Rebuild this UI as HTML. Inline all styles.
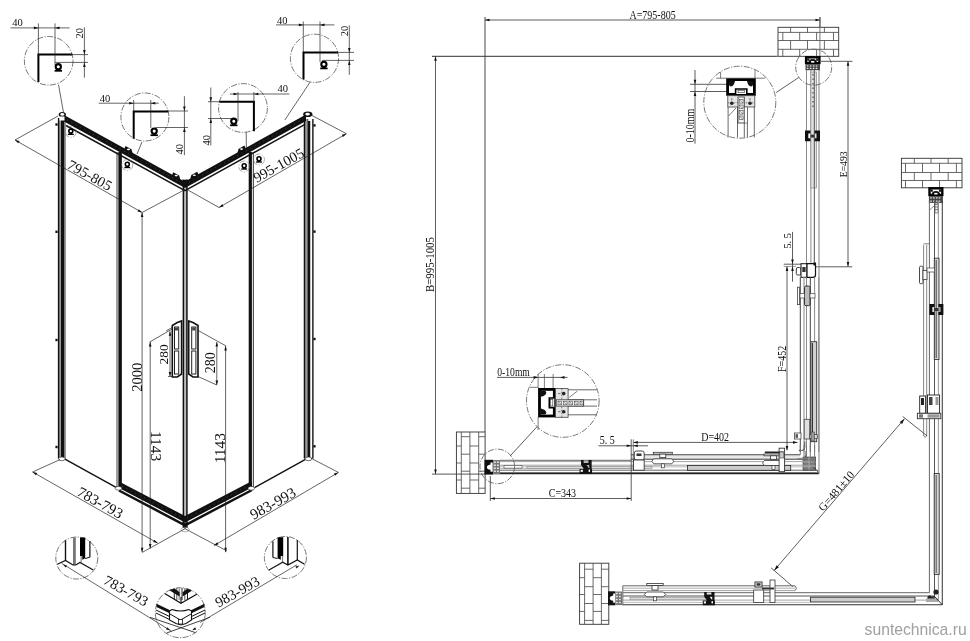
<!DOCTYPE html>
<html><head><meta charset="utf-8">
<style>
html,body{margin:0;padding:0;background:#fff;}
svg{display:block;filter:grayscale(100%);}
</style></head><body>
<svg width="970" height="641" viewBox="0 0 970 641">
<rect width="970" height="641" fill="#fff"/>
<circle cx="48.7" cy="60.8" r="24.3" fill="none" stroke="#555" stroke-width="0.8" stroke-dasharray="6,1.5,1.2,1.5"/>
<circle cx="144.9" cy="117.0" r="24.0" fill="none" stroke="#555" stroke-width="0.8" stroke-dasharray="6,1.5,1.2,1.5"/>
<circle cx="243.0" cy="108.0" r="24.4" fill="none" stroke="#555" stroke-width="0.8" stroke-dasharray="6,1.5,1.2,1.5"/>
<circle cx="314.5" cy="58.3" r="24.1" fill="none" stroke="#555" stroke-width="0.8" stroke-dasharray="6,1.5,1.2,1.5"/>
<polyline points="38.4,82.0 38.4,54.6 72.2,54.6" stroke="#000" stroke-width="2.0" fill="none" />
<line x1="10.5" y1="27.9" x2="69.6" y2="27.9" stroke="#222" stroke-width="0.7" />
<line x1="38.4" y1="23.4" x2="38.4" y2="54.6" stroke="#222" stroke-width="0.7" />
<line x1="55.0" y1="23.4" x2="55.0" y2="65.0" stroke="#222" stroke-width="0.7" />
<polygon points="38.4,27.9 33.9,29.2 33.9,26.6" fill="#111" stroke="none" stroke-width="0.8" />
<polygon points="55.0,27.9 59.5,26.6 59.5,29.2" fill="#111" stroke="none" stroke-width="0.8" />
<text transform="translate(12.2,26.2) rotate(0)" font-family="Liberation Serif" font-size="10.5" fill="#111" text-anchor="start" >40</text>
<line x1="84.4" y1="27.3" x2="84.4" y2="77.7" stroke="#222" stroke-width="0.7" />
<line x1="70.0" y1="54.6" x2="88.0" y2="54.6" stroke="#222" stroke-width="0.7" />
<line x1="55.0" y1="62.4" x2="88.0" y2="62.4" stroke="#222" stroke-width="0.7" />
<polygon points="84.4,54.6 83.1,50.1 85.7,50.1" fill="#111" stroke="none" stroke-width="0.8" />
<polygon points="84.4,62.4 85.7,66.9 83.1,66.9" fill="#111" stroke="none" stroke-width="0.8" />
<text transform="translate(83.2,38.5) rotate(-90)" font-family="Liberation Serif" font-size="10.5" fill="#111" text-anchor="start" >20</text>
<circle cx="58.3" cy="66.7" r="2.6" fill="none" stroke="#000" stroke-width="2.1"/>
<line x1="54.6" y1="70.8" x2="62.0" y2="70.8" stroke="#000" stroke-width="1.7600000000000002" />
<line x1="57.4" y1="68.9" x2="57.4" y2="70.8" stroke="#000" stroke-width="1.32" />
<line x1="59.2" y1="68.9" x2="59.2" y2="70.8" stroke="#000" stroke-width="1.32" />
<line x1="58.5" y1="84.6" x2="63.5" y2="112.5" stroke="#222" stroke-width="0.7" />
<polyline points="303.5,79.5 303.5,52.4 338.0,52.4" stroke="#000" stroke-width="2.0" fill="none" />
<line x1="276.0" y1="24.9" x2="334.4" y2="24.9" stroke="#222" stroke-width="0.7" />
<line x1="303.3" y1="21.5" x2="303.3" y2="52.4" stroke="#222" stroke-width="0.7" />
<line x1="320.0" y1="21.5" x2="320.0" y2="62.0" stroke="#222" stroke-width="0.7" />
<polygon points="303.3,24.9 298.8,26.2 298.8,23.6" fill="#111" stroke="none" stroke-width="0.8" />
<polygon points="320.0,24.9 324.5,23.6 324.5,26.2" fill="#111" stroke="none" stroke-width="0.8" />
<text transform="translate(277.0,24.0) rotate(0)" font-family="Liberation Serif" font-size="10.5" fill="#111" text-anchor="start" >40</text>
<line x1="349.3" y1="25.3" x2="349.3" y2="74.8" stroke="#222" stroke-width="0.7" />
<line x1="336.0" y1="52.4" x2="354.0" y2="52.4" stroke="#222" stroke-width="0.7" />
<line x1="322.0" y1="60.4" x2="354.0" y2="60.4" stroke="#222" stroke-width="0.7" />
<polygon points="349.3,52.4 348.0,47.9 350.6,47.9" fill="#111" stroke="none" stroke-width="0.8" />
<polygon points="349.3,60.4 350.6,64.9 348.0,64.9" fill="#111" stroke="none" stroke-width="0.8" />
<text transform="translate(348.0,36.3) rotate(-90)" font-family="Liberation Serif" font-size="10.5" fill="#111" text-anchor="start" >20</text>
<circle cx="323.9" cy="64.3" r="2.6" fill="none" stroke="#000" stroke-width="2.1"/>
<line x1="320.2" y1="68.4" x2="327.6" y2="68.4" stroke="#000" stroke-width="1.7600000000000002" />
<line x1="323.0" y1="66.5" x2="323.0" y2="68.4" stroke="#000" stroke-width="1.32" />
<line x1="324.8" y1="66.5" x2="324.8" y2="68.4" stroke="#000" stroke-width="1.32" />
<line x1="310.0" y1="82.3" x2="284.8" y2="120.0" stroke="#222" stroke-width="0.7" />
<polyline points="133.7,138.8 133.7,111.5 168.2,111.5" stroke="#000" stroke-width="2.0" fill="none" />
<line x1="98.7" y1="103.2" x2="158.8" y2="103.2" stroke="#222" stroke-width="0.7" />
<line x1="133.7" y1="100.0" x2="133.7" y2="111.5" stroke="#222" stroke-width="0.7" />
<line x1="150.8" y1="100.0" x2="150.8" y2="128.0" stroke="#222" stroke-width="0.7" />
<polygon points="133.7,103.2 129.2,104.5 129.2,101.9" fill="#111" stroke="none" stroke-width="0.8" />
<polygon points="150.8,103.2 155.3,101.9 155.3,104.5" fill="#111" stroke="none" stroke-width="0.8" />
<text transform="translate(99.8,102.0) rotate(0)" font-family="Liberation Serif" font-size="10.5" fill="#111" text-anchor="start" >40</text>
<line x1="184.4" y1="96.2" x2="184.4" y2="155.2" stroke="#222" stroke-width="0.7" />
<line x1="166.0" y1="111.0" x2="188.0" y2="111.0" stroke="#222" stroke-width="0.7" />
<line x1="155.6" y1="127.5" x2="188.0" y2="127.5" stroke="#222" stroke-width="0.7" />
<polygon points="184.4,111.0 183.1,106.5 185.7,106.5" fill="#111" stroke="none" stroke-width="0.8" />
<polygon points="184.4,127.5 185.7,132.0 183.1,132.0" fill="#111" stroke="none" stroke-width="0.8" />
<text transform="translate(182.9,154.5) rotate(-90)" font-family="Liberation Serif" font-size="10.5" fill="#111" text-anchor="start" >40</text>
<circle cx="154.2" cy="131.1" r="2.6" fill="none" stroke="#000" stroke-width="2.1"/>
<line x1="150.5" y1="135.2" x2="157.9" y2="135.2" stroke="#000" stroke-width="1.7600000000000002" />
<line x1="153.3" y1="133.3" x2="153.3" y2="135.2" stroke="#000" stroke-width="1.32" />
<line x1="155.1" y1="133.3" x2="155.1" y2="135.2" stroke="#000" stroke-width="1.32" />
<line x1="142.0" y1="142.0" x2="137.0" y2="154.0" stroke="#222" stroke-width="0.7" />
<polyline points="219.4,101.7 253.9,101.7 253.9,131.2" stroke="#000" stroke-width="2.0" fill="none" />
<line x1="229.9" y1="94.0" x2="289.3" y2="94.0" stroke="#222" stroke-width="0.7" />
<line x1="238.0" y1="92.0" x2="238.0" y2="121.0" stroke="#222" stroke-width="0.7" />
<line x1="253.9" y1="92.0" x2="253.9" y2="101.7" stroke="#222" stroke-width="0.7" />
<polygon points="238.0,94.0 233.5,95.3 233.5,92.7" fill="#111" stroke="none" stroke-width="0.8" />
<polygon points="253.9,94.0 258.4,92.7 258.4,95.3" fill="#111" stroke="none" stroke-width="0.8" />
<text transform="translate(277.5,91.8) rotate(0)" font-family="Liberation Serif" font-size="10.5" fill="#111" text-anchor="start" >40</text>
<line x1="210.8" y1="87.5" x2="210.8" y2="145.4" stroke="#222" stroke-width="0.7" />
<line x1="208.0" y1="101.7" x2="221.0" y2="101.7" stroke="#222" stroke-width="0.7" />
<line x1="208.0" y1="118.5" x2="232.0" y2="118.5" stroke="#222" stroke-width="0.7" />
<polygon points="210.8,101.7 209.5,97.2 212.1,97.2" fill="#111" stroke="none" stroke-width="0.8" />
<polygon points="210.8,118.5 212.1,123.0 209.5,123.0" fill="#111" stroke="none" stroke-width="0.8" />
<text transform="translate(209.8,145.6) rotate(-90)" font-family="Liberation Serif" font-size="10.5" fill="#111" text-anchor="start" >40</text>
<circle cx="233.8" cy="121.2" r="2.6" fill="none" stroke="#000" stroke-width="2.1"/>
<line x1="230.1" y1="125.3" x2="237.5" y2="125.3" stroke="#000" stroke-width="1.7600000000000002" />
<line x1="232.9" y1="123.4" x2="232.9" y2="125.3" stroke="#000" stroke-width="1.32" />
<line x1="234.7" y1="123.4" x2="234.7" y2="125.3" stroke="#000" stroke-width="1.32" />
<line x1="246.2" y1="132.3" x2="246.4" y2="149.0" stroke="#222" stroke-width="0.7" />
<rect x="57.90" y="118.0" width="7.60" height="340.5" fill="#9a9a9a"/>
<rect x="57.90" y="118.0" width="1.40" height="340.5" fill="#111"/>
<rect x="61.00" y="118.0" width="3.10" height="340.5" fill="#111"/>
<rect x="64.60" y="118.0" width="0.90" height="340.5" fill="#666"/>
<rect x="303.80" y="119.0" width="9.70" height="339.5" fill="#9a9a9a"/>
<rect x="303.80" y="119.0" width="1.40" height="339.5" fill="#111"/>
<rect x="307.60" y="119.0" width="2.80" height="339.5" fill="#111"/>
<rect x="310.40" y="119.0" width="1.80" height="339.5" fill="#fff"/>
<rect x="312.20" y="119.0" width="1.30" height="339.5" fill="#222"/>
<rect x="116.00" y="152.0" width="5.80" height="336.0" fill="#a0a0a0"/>
<rect x="118.60" y="152.0" width="3.20" height="336.0" fill="#111"/>
<rect x="248.70" y="152.0" width="5.20" height="336.0" fill="#fff"/>
<rect x="248.70" y="152.0" width="3.20" height="336.0" fill="#111"/>
<rect x="252.80" y="152.0" width="1.10" height="336.0" fill="#444"/>
<rect x="182.70" y="186.0" width="4.90" height="342.0" fill="#bbb"/>
<rect x="182.70" y="186.0" width="1.40" height="342.0" fill="#111"/>
<rect x="186.20" y="186.0" width="1.40" height="342.0" fill="#111"/>
<polygon points="64.0,115.1 185.0,181.7 185.0,188.1 64.0,121.5" fill="#111" stroke="none" stroke-width="0.8" />
<polygon points="185.0,181.5 306.0,114.6 306.0,121.0 185.0,187.9" fill="#111" stroke="none" stroke-width="0.8" />
<polyline points="66.0,125.5 185.0,190.7 305.0,124.4" stroke="#151515" stroke-width="1.5" fill="none" />
<polygon points="182.4,179.4 185.0,179.7 187.6,179.3 187.6,185.1 182.4,185.2" fill="#111" stroke="none" stroke-width="0.8" />
<polygon points="124.3,149.1 125.5,145.9 131.5,149.2 132.7,153.7" fill="#111" stroke="none" stroke-width="0.8" />
<ellipse cx="128.5" cy="149.4" rx="1.6" ry="0.8" fill="#fff"/>
<polygon points="172.0,175.3 173.2,172.2 179.2,175.5 180.4,179.9" fill="#111" stroke="none" stroke-width="0.8" />
<ellipse cx="176.2" cy="175.6" rx="1.6" ry="0.8" fill="#fff"/>
<polygon points="190.1,179.5 191.3,175.0 197.3,171.7 198.5,174.8" fill="#111" stroke="none" stroke-width="0.8" />
<ellipse cx="194.3" cy="175.2" rx="1.6" ry="0.8" fill="#fff"/>
<polygon points="237.3,153.4 238.5,148.9 244.5,145.6 245.7,148.7" fill="#111" stroke="none" stroke-width="0.8" />
<ellipse cx="241.5" cy="149.1" rx="1.6" ry="0.8" fill="#fff"/>
<polyline points="67.0,119.8 181.0,182.4" stroke="#4a4a4a" stroke-width="0.9" fill="none" stroke-dasharray="1,4"/>
<polyline points="189.0,182.3 303.0,119.2" stroke="#4a4a4a" stroke-width="0.9" fill="none" stroke-dasharray="1,4"/>
<ellipse cx="62.3" cy="114.6" rx="3.6" ry="2.6" fill="#111"/>
<ellipse cx="62.3" cy="114.4" rx="2.0" ry="1.3" fill="#fff"/>
<rect x="59.5" y="116.5" width="5.0" height="4.0" fill="#fff" stroke="none" stroke-width="0.8" />
<ellipse cx="307.8" cy="114.3" rx="4.6" ry="2.8" fill="#111"/>
<ellipse cx="307.6" cy="114.2" rx="2.3" ry="1.4" fill="#fff"/>
<rect x="308.2" y="117.0" width="3.8" height="4.0" fill="#fff" stroke="none" stroke-width="0.8" />
<rect x="55.4" y="123.3" width="2.2" height="2.4" fill="#111" stroke="none" stroke-width="0.8" />
<rect x="55.4" y="230.6" width="2.2" height="2.4" fill="#111" stroke="none" stroke-width="0.8" />
<rect x="55.4" y="338.8" width="2.2" height="2.4" fill="#111" stroke="none" stroke-width="0.8" />
<rect x="55.4" y="445.8" width="2.2" height="2.4" fill="#111" stroke="none" stroke-width="0.8" />
<rect x="313.4" y="124.2" width="2.2" height="2.4" fill="#111" stroke="none" stroke-width="0.8" />
<rect x="313.4" y="230.4" width="2.2" height="2.4" fill="#111" stroke="none" stroke-width="0.8" />
<rect x="313.4" y="337.8" width="2.2" height="2.4" fill="#111" stroke="none" stroke-width="0.8" />
<rect x="313.4" y="445.1" width="2.2" height="2.4" fill="#111" stroke="none" stroke-width="0.8" />
<line x1="64.5" y1="458.8" x2="116.5" y2="487.6" stroke="#111" stroke-width="1.4" />
<line x1="254.5" y1="487.6" x2="305.5" y2="459.3" stroke="#111" stroke-width="1.4" />
<polygon points="119.0,481.5 185.0,516.0 185.0,522.4 119.0,487.9" fill="#111" stroke="none" stroke-width="0.8" />
<polygon points="185.0,516.0 252.0,481.0 252.0,487.4 185.0,522.4" fill="#111" stroke="none" stroke-width="0.8" />
<polyline points="119.0,490.5 185.0,525.3 252.0,490.0" stroke="#111" stroke-width="2.5" fill="none" />
<polyline points="122.0,486.2 183.0,518.1" stroke="#4a4a4a" stroke-width="0.9" fill="none" stroke-dasharray="1,4"/>
<polyline points="187.0,518.2 249.0,485.7" stroke="#4a4a4a" stroke-width="0.9" fill="none" stroke-dasharray="1,4"/>
<polygon points="182.0,522.4 185.0,529.2 188.0,522.4" fill="#111" stroke="none" stroke-width="0.8" />
<ellipse cx="61.8" cy="458.8" rx="3.3" ry="1.9" fill="#fff" stroke="#333" stroke-width="0.7"/>
<ellipse cx="118.5" cy="488.3" rx="3.3" ry="1.9" fill="#fff" stroke="#333" stroke-width="0.7"/>
<ellipse cx="251.3" cy="488.3" rx="3.3" ry="1.9" fill="#fff" stroke="#333" stroke-width="0.7"/>
<ellipse cx="308.5" cy="458.8" rx="3.3" ry="1.9" fill="#fff" stroke="#333" stroke-width="0.7"/>
<ellipse cx="185" cy="529.5" rx="4" ry="2.3" fill="none" stroke="#888" stroke-width="0.6"/>
<circle cx="70.8" cy="131.8" r="5.5" fill="none" stroke="#777" stroke-width="0.6" stroke-dasharray="6,1.5,1.2,1.5"/>
<circle cx="70.8" cy="131.1" r="2.0" fill="none" stroke="#000" stroke-width="1.6"/>
<line x1="67.9" y1="134.3" x2="73.7" y2="134.3" stroke="#000" stroke-width="1.36" />
<line x1="70.1" y1="132.8" x2="70.1" y2="134.3" stroke="#000" stroke-width="1.02" />
<line x1="71.5" y1="132.8" x2="71.5" y2="134.3" stroke="#000" stroke-width="1.02" />
<circle cx="127.3" cy="165.0" r="5.5" fill="none" stroke="#777" stroke-width="0.6" stroke-dasharray="6,1.5,1.2,1.5"/>
<circle cx="127.3" cy="164.3" r="2.0" fill="none" stroke="#000" stroke-width="1.6"/>
<line x1="124.4" y1="167.5" x2="130.2" y2="167.5" stroke="#000" stroke-width="1.36" />
<line x1="126.6" y1="166.0" x2="126.6" y2="167.5" stroke="#000" stroke-width="1.02" />
<line x1="128.0" y1="166.0" x2="128.0" y2="167.5" stroke="#000" stroke-width="1.02" />
<circle cx="244.2" cy="166.5" r="5.5" fill="none" stroke="#777" stroke-width="0.6" stroke-dasharray="6,1.5,1.2,1.5"/>
<circle cx="244.2" cy="165.8" r="2.0" fill="none" stroke="#000" stroke-width="1.6"/>
<line x1="241.3" y1="169.0" x2="247.1" y2="169.0" stroke="#000" stroke-width="1.36" />
<line x1="243.5" y1="167.5" x2="243.5" y2="169.0" stroke="#000" stroke-width="1.02" />
<line x1="244.9" y1="167.5" x2="244.9" y2="169.0" stroke="#000" stroke-width="1.02" />
<circle cx="259.0" cy="159.5" r="5.5" fill="none" stroke="#777" stroke-width="0.6" stroke-dasharray="6,1.5,1.2,1.5"/>
<circle cx="259.0" cy="158.8" r="2.0" fill="none" stroke="#000" stroke-width="1.6"/>
<line x1="256.1" y1="162.0" x2="261.9" y2="162.0" stroke="#000" stroke-width="1.36" />
<line x1="258.3" y1="160.5" x2="258.3" y2="162.0" stroke="#000" stroke-width="1.02" />
<line x1="259.7" y1="160.5" x2="259.7" y2="162.0" stroke="#000" stroke-width="1.02" />
<polygon points="172.3,325.5 177.3,322.5 181.6,321.0 181.6,374.0 177.3,377.0 172.3,377.0" fill="#fff" stroke="#111" stroke-width="1.6" />
<rect x="174.5" y="327.0" width="4.2" height="22.0" fill="#fff" stroke="#222" stroke-width="1.0" />
<rect x="174.5" y="351.0" width="4.2" height="23.0" fill="#fff" stroke="#222" stroke-width="1.0" />
<rect x="175.0" y="327.5" width="3.2" height="3.0" fill="#444" stroke="none" stroke-width="0.8" />
<polygon points="188.7,321.0 193.0,322.5 198.0,325.5 198.0,377.0 193.0,377.0 188.7,374.0" fill="#fff" stroke="#111" stroke-width="1.6" />
<rect x="191.7" y="327.0" width="4.2" height="22.0" fill="#fff" stroke="#222" stroke-width="1.0" />
<rect x="191.7" y="351.0" width="4.2" height="23.0" fill="#fff" stroke="#222" stroke-width="1.0" />
<rect x="192.2" y="327.5" width="3.2" height="3.0" fill="#444" stroke="none" stroke-width="0.8" />
<line x1="58.0" y1="116.0" x2="15.0" y2="140.0" stroke="#222" stroke-width="0.7" />
<line x1="15.0" y1="140.0" x2="142.1" y2="212.5" stroke="#222" stroke-width="0.7" />
<line x1="185.0" y1="189.5" x2="142.1" y2="212.5" stroke="#222" stroke-width="0.7" />
<polygon points="15.0,140.0 19.6,141.1 18.3,143.3" fill="#111" stroke="none" stroke-width="0.8" />
<polygon points="142.1,212.5 137.5,211.4 138.8,209.2" fill="#111" stroke="none" stroke-width="0.8" />
<text transform="translate(87.4,179.5) rotate(29)" font-family="Liberation Serif" font-size="14.5" fill="#111" text-anchor="middle" >795-805</text>
<line x1="312.0" y1="115.5" x2="346.4" y2="133.7" stroke="#222" stroke-width="0.7" />
<line x1="346.4" y1="133.7" x2="219.0" y2="207.5" stroke="#222" stroke-width="0.7" />
<line x1="187.0" y1="189.5" x2="219.0" y2="207.5" stroke="#222" stroke-width="0.7" />
<polygon points="346.4,133.7 343.1,137.1 341.9,134.8" fill="#111" stroke="none" stroke-width="0.8" />
<polygon points="219.0,207.5 222.3,204.1 223.5,206.4" fill="#111" stroke="none" stroke-width="0.8" />
<text transform="translate(281.0,169.5) rotate(-29)" font-family="Liberation Serif" font-size="14.5" fill="#111" text-anchor="middle" >995-1005</text>
<line x1="142.1" y1="212.5" x2="142.1" y2="552.3" stroke="#222" stroke-width="0.7" />
<polygon points="142.1,212.5 143.4,217.0 140.8,217.0" fill="#111" stroke="none" stroke-width="0.8" />
<polygon points="142.1,552.3 140.8,547.8 143.4,547.8" fill="#111" stroke="none" stroke-width="0.8" />
<text transform="translate(141.6,377.3) rotate(-90)" font-family="Liberation Serif" font-size="14.5" fill="#111" text-anchor="middle" >2000</text>
<line x1="150.2" y1="342.0" x2="150.2" y2="548.5" stroke="#222" stroke-width="0.7" />
<polygon points="150.2,342.0 151.5,346.5 148.9,346.5" fill="#111" stroke="none" stroke-width="0.8" />
<polygon points="150.2,548.5 148.9,544.0 151.5,544.0" fill="#111" stroke="none" stroke-width="0.8" />
<text transform="translate(151.0,446.0) rotate(90) scale(1.1,1)" font-family="Liberation Serif" font-size="14" fill="#111" text-anchor="middle" >1143</text>
<line x1="225.6" y1="346.0" x2="225.6" y2="552.2" stroke="#222" stroke-width="0.7" />
<polygon points="225.6,346.0 226.9,350.5 224.3,350.5" fill="#111" stroke="none" stroke-width="0.8" />
<polygon points="225.6,552.2 224.3,547.7 226.9,547.7" fill="#111" stroke="none" stroke-width="0.8" />
<text transform="translate(224.6,448.2) rotate(-90) scale(1.1,1)" font-family="Liberation Serif" font-size="14" fill="#111" text-anchor="middle" >1143</text>
<line x1="172.3" y1="328.9" x2="149.6" y2="342.1" stroke="#222" stroke-width="0.7" />
<line x1="198.0" y1="330.4" x2="226.1" y2="346.0" stroke="#222" stroke-width="0.7" />
<line x1="170.0" y1="331.2" x2="170.0" y2="376.5" stroke="#222" stroke-width="0.7" />
<polygon points="170.0,331.2 171.3,335.7 168.7,335.7" fill="#111" stroke="none" stroke-width="0.8" />
<polygon points="170.0,376.5 168.7,372.0 171.3,372.0" fill="#111" stroke="none" stroke-width="0.8" />
<line x1="172.0" y1="327.5" x2="166.0" y2="331.0" stroke="#222" stroke-width="0.7" />
<line x1="173.0" y1="376.5" x2="168.0" y2="376.5" stroke="#222" stroke-width="0.7" />
<text transform="translate(168.4,354.3) rotate(-90)" font-family="Liberation Serif" font-size="13.5" fill="#111" text-anchor="middle" >280</text>
<line x1="216.8" y1="342.0" x2="216.8" y2="385.0" stroke="#222" stroke-width="0.7" />
<polygon points="216.8,342.0 218.1,346.5 215.5,346.5" fill="#111" stroke="none" stroke-width="0.8" />
<polygon points="216.8,385.0 215.5,380.5 218.1,380.5" fill="#111" stroke="none" stroke-width="0.8" />
<line x1="198.0" y1="376.5" x2="216.8" y2="385.0" stroke="#222" stroke-width="0.7" />
<text transform="translate(215.4,362.8) rotate(-90)" font-family="Liberation Serif" font-size="14" fill="#111" text-anchor="middle" >280</text>
<line x1="60.0" y1="459.6" x2="32.6" y2="472.0" stroke="#222" stroke-width="0.7" />
<line x1="32.6" y1="472.0" x2="157.7" y2="543.1" stroke="#222" stroke-width="0.7" />
<line x1="185.0" y1="528.7" x2="142.3" y2="552.4" stroke="#222" stroke-width="0.7" />
<polygon points="32.6,472.0 37.2,473.1 35.9,475.3" fill="#111" stroke="none" stroke-width="0.8" />
<polygon points="157.7,543.1 153.1,542.0 154.4,539.8" fill="#111" stroke="none" stroke-width="0.8" />
<text transform="translate(97.8,507.0) rotate(29)" font-family="Liberation Serif" font-size="15" fill="#111" text-anchor="middle" >783-793</text>
<line x1="311.0" y1="458.2" x2="338.4" y2="472.4" stroke="#222" stroke-width="0.7" />
<line x1="338.4" y1="472.4" x2="213.9" y2="545.6" stroke="#222" stroke-width="0.7" />
<line x1="185.0" y1="528.7" x2="227.0" y2="551.0" stroke="#222" stroke-width="0.7" />
<polygon points="338.4,472.4 335.1,475.8 333.9,473.5" fill="#111" stroke="none" stroke-width="0.8" />
<polygon points="213.9,545.6 217.2,542.2 218.4,544.5" fill="#111" stroke="none" stroke-width="0.8" />
<text transform="translate(275.3,507.8) rotate(-29)" font-family="Liberation Serif" font-size="15" fill="#111" text-anchor="middle" >983-993</text>
<circle cx="76.8" cy="558.0" r="21.0" fill="none" stroke="#555" stroke-width="0.8" stroke-dasharray="6,1.5,1.2,1.5"/>
<circle cx="180.3" cy="612.7" r="25.0" fill="none" stroke="#555" stroke-width="0.8" stroke-dasharray="6,1.5,1.2,1.5"/>
<circle cx="285.4" cy="557.5" r="21.0" fill="none" stroke="#555" stroke-width="0.8" stroke-dasharray="6,1.5,1.2,1.5"/>
<line x1="65.5" y1="540.3" x2="65.5" y2="560.5" stroke="#111" stroke-width="1.4" />
<rect x="73.00" y="537.5" width="2.80" height="27.5" fill="#777"/>
<polygon points="80.0,537.5 85.2,537.5 85.2,558.3 82.3,559.8 82.3,556.0 80.0,556.0" fill="#000" stroke="none" stroke-width="0.8" />
<line x1="81.2" y1="556.0" x2="81.2" y2="562.5" stroke="#888" stroke-width="1.2" />
<line x1="89.9" y1="541.0" x2="89.9" y2="557.2" stroke="#111" stroke-width="1.2" />
<line x1="89.9" y1="557.2" x2="85.2" y2="558.5" stroke="#111" stroke-width="1.0" />
<polyline points="57.3,564.3 65.5,560.5 73.0,565.0 75.8,565.0 80.0,562.5 93.3,569.9" stroke="#111" stroke-width="1.2" fill="none" />
<polygon points="62.9,564.6 67.0,565.5 65.8,567.6" fill="#111" stroke="none" stroke-width="0.8" />
<line x1="272.9" y1="541.2" x2="272.9" y2="557.5" stroke="#111" stroke-width="1.2" />
<polygon points="277.6,537.3 283.2,537.3 283.2,556.0 280.8,556.0 280.8,559.8 277.6,558.2" fill="#000" stroke="none" stroke-width="0.8" />
<line x1="282.5" y1="556.0" x2="282.5" y2="563.0" stroke="#888" stroke-width="1.2" />
<line x1="287.9" y1="537.0" x2="287.9" y2="565.0" stroke="#111" stroke-width="1.6" />
<line x1="297.3" y1="540.0" x2="297.3" y2="560.0" stroke="#111" stroke-width="1.2" />
<line x1="272.9" y1="557.5" x2="277.6" y2="558.5" stroke="#111" stroke-width="1.0" />
<polyline points="269.0,569.9 282.7,562.2 287.9,565.0 297.3,560.0 304.6,564.3" stroke="#111" stroke-width="1.2" fill="none" />
<polygon points="299.5,565.5 296.6,568.5 295.4,566.4" fill="#111" stroke="none" stroke-width="0.8" />
<defs><clipPath id="cc"><circle cx="180.3" cy="612.3" r="24.6"/></clipPath></defs>
<g clip-path="url(#cc)">
<line x1="174.3" y1="586.0" x2="174.3" y2="600.0" stroke="#222" stroke-width="1.0" />
<line x1="176.8" y1="586.0" x2="176.8" y2="600.0" stroke="#555" stroke-width="1.0" />
<line x1="179.3" y1="586.0" x2="179.3" y2="600.0" stroke="#aaa" stroke-width="1.8" />
<line x1="182.0" y1="586.0" x2="182.0" y2="600.0" stroke="#222" stroke-width="1.0" />
<line x1="184.8" y1="586.0" x2="184.8" y2="600.0" stroke="#555" stroke-width="1.0" />
<line x1="187.5" y1="586.0" x2="187.5" y2="600.0" stroke="#222" stroke-width="1.0" />
<polygon points="166.5,588.6 170.5,585.5 179.6,592.2 179.6,596.6" fill="#111" stroke="none" stroke-width="0.8" />
<polygon points="195.5,588.6 191.5,585.5 182.6,592.2 182.6,596.6" fill="#111" stroke="none" stroke-width="0.8" />
<polygon points="164.3,593.3 181.0,603.3 197.6,593.8 197.6,595.6 181.0,605.0 164.3,595.1" fill="#fff" stroke="none" stroke-width="0.8" />
<polyline points="164.3,593.3 181.0,603.3 197.6,593.8" stroke="#111" stroke-width="1.3" fill="none" />
<line x1="181.0" y1="597.0" x2="181.0" y2="603.3" stroke="#111" stroke-width="1.2" />
</g>
<polygon points="156.5,603.8 170.1,610.3 170.1,613.5 156.5,607.0" fill="#111" stroke="none" stroke-width="0.8" />
<polygon points="191.0,610.3 204.5,603.8 204.5,607.0 191.0,613.5" fill="#111" stroke="none" stroke-width="0.8" />
<polyline points="156.0,610.0 169.5,616.5" stroke="#111" stroke-width="1.0" fill="none" />
<polyline points="156.0,613.0 169.5,619.5" stroke="#111" stroke-width="1.0" fill="none" />
<polyline points="191.5,616.5 205.0,610.0" stroke="#111" stroke-width="1.0" fill="none" />
<polyline points="191.5,619.5 205.0,613.0" stroke="#111" stroke-width="1.0" fill="none" />
<path d="M169.5,611 L172,609.5 Q180.5,612.5 189,609.5 L191.5,611 L191.5,620 L186,623.5 L181,625 L176,623.5 L169.5,620 Z" fill="#fff" stroke="#111" stroke-width="1.1"/>
<polyline points="170.0,614.0 180.5,620.0 191.0,614.0" stroke="#111" stroke-width="1.0" fill="none" />
<rect x="178.5" y="619.5" width="4.0" height="4.5" fill="#fff" stroke="#111" stroke-width="0.8" />
<line x1="150.0" y1="617.3" x2="195.4" y2="632.6" stroke="#111" stroke-width="0.8" />
<line x1="166.6" y1="633.0" x2="210.0" y2="617.3" stroke="#111" stroke-width="0.8" />
<polygon points="170.2,630.3 166.1,629.4 167.3,627.3" fill="#111" stroke="none" stroke-width="0.8" />
<polygon points="192.2,630.3 195.1,627.3 196.3,629.4" fill="#111" stroke="none" stroke-width="0.8" />
<line x1="61.6" y1="563.3" x2="171.3" y2="631.1" stroke="#222" stroke-width="0.7" />
<line x1="200.2" y1="622.5" x2="297.0" y2="564.7" stroke="#222" stroke-width="0.7" />
<text transform="translate(123.7,595.0) rotate(29)" font-family="Liberation Serif" font-size="14.5" fill="#111" text-anchor="middle" >783-793</text>
<text transform="translate(239.6,596.0) rotate(-29)" font-family="Liberation Serif" font-size="14.5" fill="#111" text-anchor="middle" >983-993</text>
<line x1="485.0" y1="17.0" x2="485.0" y2="432.0" stroke="#333" stroke-width="0.9" />
<line x1="485.0" y1="20.0" x2="820.0" y2="20.0" stroke="#333" stroke-width="0.8" />
<line x1="820.0" y1="17.0" x2="820.0" y2="57.0" stroke="#333" stroke-width="0.8" />
<polygon points="485.0,20.0 489.5,18.7 489.5,21.3" fill="#111" stroke="none" stroke-width="0.8" />
<polygon points="820.0,20.0 815.5,21.3 815.5,18.7" fill="#111" stroke="none" stroke-width="0.8" />
<text transform="translate(629.5,18.7) rotate(0) scale(0.87,1)" font-family="Liberation Serif" font-size="11.5" fill="#111" text-anchor="start" >A=795-805</text>
<line x1="432.0" y1="56.3" x2="777.5" y2="56.3" stroke="#333" stroke-width="1.0" />
<line x1="435.5" y1="56.3" x2="435.5" y2="474.1" stroke="#333" stroke-width="0.8" />
<polygon points="435.5,56.3 436.8,60.8 434.2,60.8" fill="#111" stroke="none" stroke-width="0.8" />
<polygon points="435.5,474.1 434.2,469.6 436.8,469.6" fill="#111" stroke="none" stroke-width="0.8" />
<text transform="translate(434.4,292.0) rotate(-90) scale(0.945,1)" font-family="Liberation Serif" font-size="11.5" fill="#111" text-anchor="start" >B=995-1005</text>
<rect x="778.0" y="27.3" width="60.7" height="29.0" fill="#fff" stroke="#333" stroke-width="0.9" />
<line x1="778.0" y1="32.4" x2="838.7" y2="32.4" stroke="#444" stroke-width="0.8" />
<line x1="778.0" y1="40.5" x2="838.7" y2="40.5" stroke="#444" stroke-width="0.8" />
<line x1="778.0" y1="49.3" x2="838.7" y2="49.3" stroke="#444" stroke-width="0.8" />
<line x1="790.6" y1="27.3" x2="790.6" y2="32.4" stroke="#444" stroke-width="0.8" />
<line x1="807.5" y1="27.3" x2="807.5" y2="32.4" stroke="#444" stroke-width="0.8" />
<line x1="824.4" y1="27.3" x2="824.4" y2="32.4" stroke="#444" stroke-width="0.8" />
<line x1="782.8" y1="32.4" x2="782.8" y2="40.5" stroke="#444" stroke-width="0.8" />
<line x1="799.7" y1="32.4" x2="799.7" y2="40.5" stroke="#444" stroke-width="0.8" />
<line x1="816.6" y1="32.4" x2="816.6" y2="40.5" stroke="#444" stroke-width="0.8" />
<line x1="833.5" y1="32.4" x2="833.5" y2="40.5" stroke="#444" stroke-width="0.8" />
<line x1="790.6" y1="40.5" x2="790.6" y2="49.3" stroke="#444" stroke-width="0.8" />
<line x1="807.5" y1="40.5" x2="807.5" y2="49.3" stroke="#444" stroke-width="0.8" />
<line x1="824.4" y1="40.5" x2="824.4" y2="49.3" stroke="#444" stroke-width="0.8" />
<line x1="782.8" y1="49.3" x2="782.8" y2="56.3" stroke="#444" stroke-width="0.8" />
<line x1="799.7" y1="49.3" x2="799.7" y2="56.3" stroke="#444" stroke-width="0.8" />
<line x1="816.6" y1="49.3" x2="816.6" y2="56.3" stroke="#444" stroke-width="0.8" />
<line x1="833.5" y1="49.3" x2="833.5" y2="56.3" stroke="#444" stroke-width="0.8" />
<line x1="819.9" y1="17.0" x2="819.9" y2="57.0" stroke="#555" stroke-width="0.8" />
<rect x="806.1" y="57.3" width="13.3" height="5.8" fill="#fff" stroke="#000" stroke-width="2.4"/>
<path d="M808.5,62.6 q0,-3.6 4.2,-3.6 q4.2,0 4.2,3.6 z" fill="#111"/>
<rect x="811.1" y="61.0" width="3.2" height="1.6" fill="#fff"/>
<path d="M807.2,58.4 h2.2 v2.4 h-2.2 z M816.1,58.4 h2.2 v2.4 h-2.2 z" fill="#111"/>
<rect x="805.5" y="64.2" width="14.5" height="6.0" fill="#444" stroke="none" stroke-width="0.8" />
<rect x="806.8" y="65.4" width="1.6" height="1.2" fill="#eee" stroke="none" stroke-width="0.8" />
<rect x="806.8" y="67.8" width="1.6" height="1.2" fill="#eee" stroke="none" stroke-width="0.8" />
<rect x="809.8" y="65.4" width="1.6" height="1.2" fill="#eee" stroke="none" stroke-width="0.8" />
<rect x="809.8" y="67.8" width="1.6" height="1.2" fill="#eee" stroke="none" stroke-width="0.8" />
<rect x="812.8" y="65.4" width="1.6" height="1.2" fill="#eee" stroke="none" stroke-width="0.8" />
<rect x="812.8" y="67.8" width="1.6" height="1.2" fill="#eee" stroke="none" stroke-width="0.8" />
<rect x="815.7" y="65.4" width="1.6" height="1.2" fill="#eee" stroke="none" stroke-width="0.8" />
<rect x="815.7" y="67.8" width="1.6" height="1.2" fill="#eee" stroke="none" stroke-width="0.8" />
<line x1="806.5" y1="70.0" x2="806.5" y2="264.0" stroke="#8a8a8a" stroke-width="1.0" />
<line x1="810.9" y1="70.0" x2="810.9" y2="264.0" stroke="#8a8a8a" stroke-width="1.0" />
<line x1="819.0" y1="70.0" x2="819.0" y2="264.0" stroke="#8a8a8a" stroke-width="1.1" />
<rect x="810.9" y="72.0" width="5.6" height="116.0" fill="#e2e2e2" stroke="#888" stroke-width="0.7" />
<line x1="814.3" y1="70.0" x2="814.3" y2="264.0" stroke="#555" stroke-width="1.0" />
<line x1="813.0" y1="74.0" x2="813.0" y2="110.0" stroke="#333" stroke-width="1.0" stroke-dasharray="1.5,3"/>
<path d="M805,130.6 h5.5 v3 h-2.2 v4.6 h2.2 v3 h-5.5 z" fill="#111"/>
<path d="M820,130.6 h-5.5 v3 h2.2 v4.6 h-2.2 v3 h5.5 z" fill="#111"/>
<rect x="810.5" y="134.6" width="4.0" height="3.0" fill="#333" stroke="none" stroke-width="0.8" />
<rect x="796.3" y="267.5" width="4.7" height="7.5" fill="#fff" stroke="#222" stroke-width="0.9" rx="1.5"/>
<rect x="801.0" y="263.7" width="6.0" height="13.6" fill="#fff" stroke="#111" stroke-width="1.0" />
<rect x="802.3" y="267.0" width="3.3" height="5.0" fill="#333" stroke="none" stroke-width="0.8" />
<path d="M807,263.7 h8.5 v11 q0,2.6 -2.6,2.6 h-5.9 z" fill="#fff" stroke="#111" stroke-width="1.2"/>
<rect x="813.5" y="262.5" width="2.5" height="3.0" fill="#111" stroke="none" stroke-width="0.8" />
<line x1="800.3" y1="277.3" x2="800.3" y2="452.0" stroke="#444" stroke-width="1.0" />
<line x1="804.0" y1="277.3" x2="804.0" y2="452.0" stroke="#aaa" stroke-width="1.4" />
<line x1="806.5" y1="277.3" x2="806.5" y2="452.0" stroke="#8a8a8a" stroke-width="1.0" />
<line x1="810.3" y1="277.3" x2="810.3" y2="452.0" stroke="#444" stroke-width="1.0" />
<line x1="814.6" y1="277.3" x2="814.6" y2="452.0" stroke="#8a8a8a" stroke-width="1.0" />
<line x1="818.8" y1="277.3" x2="818.8" y2="452.0" stroke="#8a8a8a" stroke-width="1.1" />
<rect x="797.4" y="287.2" width="2.2" height="17.4" fill="#fff" stroke="#444" stroke-width="0.8" />
<rect x="804.5" y="286.0" width="5.5" height="19.7" fill="#bbb" stroke="#222" stroke-width="0.9" rx="1.5"/>
<rect x="800.0" y="293.7" width="4.5" height="4.3" fill="#fff" stroke="#444" stroke-width="0.7" />
<rect x="810.0" y="293.7" width="5.0" height="4.3" fill="#fff" stroke="#444" stroke-width="0.7" />
<rect x="810.8" y="341.7" width="5.9" height="100.0" fill="#d0d0d0" stroke="#333" stroke-width="0.9" />
<line x1="812.4" y1="343.0" x2="812.4" y2="440.0" stroke="#222" stroke-width="1.0" />
<rect x="794.4" y="433.0" width="6.6" height="6.0" fill="#fff" stroke="#444" stroke-width="0.8" />
<rect x="795.5" y="434.2" width="2.5" height="3.6" fill="#555" stroke="none" stroke-width="0.8" />
<rect x="804.2" y="419.3" width="5.5" height="19.7" fill="#e0e0e0" stroke="#444" stroke-width="0.8" />
<rect x="809.7" y="434.6" width="7.6" height="3.8" fill="#ddd" stroke="#444" stroke-width="0.8" />
<rect x="811.0" y="432.0" width="3.5" height="9.0" fill="#999" stroke="#444" stroke-width="0.6" />
<path d="M798.8,450.4 h3 q3,0 3,-3 v-6" stroke="#444" stroke-width="1.0" fill="none"/>
<path d="M797.5,458.6 h4 q4.5,0 4.5,-4.5 v-3" stroke="#444" stroke-width="1.0" fill="none"/>
<rect x="803.0" y="457.0" width="12.7" height="13.6" fill="#777" stroke="#333" stroke-width="0.6" />
<line x1="803.0" y1="462.0" x2="815.7" y2="462.0" stroke="#ccc" stroke-width="0.6" />
<line x1="803.0" y1="466.0" x2="815.7" y2="466.0" stroke="#ccc" stroke-width="0.6" />
<line x1="809.0" y1="457.0" x2="809.0" y2="470.6" stroke="#ccc" stroke-width="0.6" />
<line x1="812.4" y1="466.2" x2="819.0" y2="472.8" stroke="#222" stroke-width="0.9" />
<line x1="821.0" y1="61.3" x2="852.5" y2="61.3" stroke="#333" stroke-width="0.8" />
<line x1="848.0" y1="61.3" x2="848.0" y2="266.5" stroke="#333" stroke-width="0.8" />
<polygon points="848.0,61.3 849.3,65.8 846.7,65.8" fill="#111" stroke="none" stroke-width="0.8" />
<polygon points="848.0,266.5 846.7,262.0 849.3,262.0" fill="#111" stroke="none" stroke-width="0.8" />
<line x1="816.0" y1="266.8" x2="852.3" y2="266.8" stroke="#333" stroke-width="0.8" />
<line x1="783.7" y1="264.2" x2="801.0" y2="264.2" stroke="#333" stroke-width="0.8" />
<line x1="783.7" y1="266.4" x2="796.0" y2="266.4" stroke="#555" stroke-width="0.6" />
<text transform="translate(846.8,177.3) rotate(-90) scale(0.9,1)" font-family="Liberation Serif" font-size="10.8" fill="#111" text-anchor="start" >E=493</text>
<line x1="792.5" y1="231.9" x2="792.5" y2="281.7" stroke="#333" stroke-width="0.8" />
<polygon points="792.5,263.9 791.2,259.4 793.8,259.4" fill="#111" stroke="none" stroke-width="0.8" />
<polygon points="792.5,266.6 793.8,271.1 791.2,271.1" fill="#111" stroke="none" stroke-width="0.8" />
<text transform="translate(791.1,248.6) rotate(-90) scale(0.95,1)" font-family="Liberation Serif" font-size="11" fill="#111" text-anchor="start" >5. 5</text>
<line x1="787.0" y1="266.4" x2="787.0" y2="450.4" stroke="#333" stroke-width="0.8" />
<polygon points="787.0,266.4 788.3,270.9 785.7,270.9" fill="#111" stroke="none" stroke-width="0.8" />
<polygon points="787.0,450.4 785.7,445.9 788.3,445.9" fill="#111" stroke="none" stroke-width="0.8" />
<text transform="translate(786.1,372.0) rotate(-90) scale(0.87,1)" font-family="Liberation Serif" font-size="11.5" fill="#111" text-anchor="start" >F=452</text>
<line x1="631.0" y1="454.6" x2="800.3" y2="454.6" stroke="#666" stroke-width="1.0" />
<line x1="631.0" y1="455.8" x2="800.3" y2="455.8" stroke="#999" stroke-width="0.8" />
<line x1="631.0" y1="458.3" x2="804.0" y2="458.3" stroke="#999" stroke-width="0.9" />
<line x1="631.0" y1="459.5" x2="806.5" y2="459.5" stroke="#666" stroke-width="0.9" />
<line x1="500.0" y1="460.3" x2="631.0" y2="460.3" stroke="#666" stroke-width="1.0" />
<line x1="500.0" y1="461.6" x2="810.3" y2="461.6" stroke="#999" stroke-width="0.9" />
<line x1="500.0" y1="465.2" x2="814.6" y2="465.2" stroke="#999" stroke-width="0.9" />
<line x1="500.0" y1="466.8" x2="814.6" y2="466.8" stroke="#aaa" stroke-width="0.8" />
<line x1="500.0" y1="468.5" x2="631.0" y2="468.5" stroke="#aaa" stroke-width="0.8" />
<line x1="500.0" y1="470.2" x2="818.8" y2="470.2" stroke="#666" stroke-width="1.0" />
<line x1="500.0" y1="472.6" x2="819.0" y2="472.6" stroke="#666" stroke-width="1.0" />
<line x1="500.0" y1="473.6" x2="819.0" y2="473.6" stroke="#222" stroke-width="1.1" />
<line x1="800.3" y1="445.0" x2="800.3" y2="454.6" stroke="#777" stroke-width="1.0" />
<line x1="804.0" y1="445.0" x2="804.0" y2="458.3" stroke="#777" stroke-width="1.0" />
<line x1="806.5" y1="445.0" x2="806.5" y2="459.5" stroke="#777" stroke-width="1.0" />
<line x1="810.3" y1="445.0" x2="810.3" y2="461.6" stroke="#777" stroke-width="1.0" />
<line x1="814.6" y1="445.0" x2="814.6" y2="465.2" stroke="#777" stroke-width="1.0" />
<line x1="819.0" y1="473.8" x2="819.0" y2="264.0" stroke="#8a8a8a" stroke-width="1.1" />
<rect x="687.4" y="465.4" width="103.3" height="4.9" fill="#ccc" stroke="#222" stroke-width="0.8" />
<rect x="504.0" y="465.6" width="18.0" height="2.5" fill="#fff" stroke="#444" stroke-width="0.6" />
<rect x="527.0" y="466.3" width="125.0" height="2.2" fill="#ddd" stroke="#777" stroke-width="0.5" />
<rect x="456.4" y="432.0" width="28.7" height="61.4" fill="#fff" stroke="#333" stroke-width="0.9" />
<line x1="461.3" y1="432.0" x2="461.3" y2="493.4" stroke="#444" stroke-width="0.8" />
<line x1="469.9" y1="432.0" x2="469.9" y2="493.4" stroke="#444" stroke-width="0.8" />
<line x1="478.7" y1="432.0" x2="478.7" y2="493.4" stroke="#444" stroke-width="0.8" />
<line x1="456.4" y1="446.0" x2="461.3" y2="446.0" stroke="#444" stroke-width="0.8" />
<line x1="456.4" y1="463.0" x2="461.3" y2="463.0" stroke="#444" stroke-width="0.8" />
<line x1="456.4" y1="480.0" x2="461.3" y2="480.0" stroke="#444" stroke-width="0.8" />
<line x1="461.3" y1="436.7" x2="469.9" y2="436.7" stroke="#444" stroke-width="0.8" />
<line x1="461.3" y1="454.2" x2="469.9" y2="454.2" stroke="#444" stroke-width="0.8" />
<line x1="461.3" y1="471.2" x2="469.9" y2="471.2" stroke="#444" stroke-width="0.8" />
<line x1="461.3" y1="488.2" x2="469.9" y2="488.2" stroke="#444" stroke-width="0.8" />
<line x1="469.9" y1="446.0" x2="478.7" y2="446.0" stroke="#444" stroke-width="0.8" />
<line x1="469.9" y1="463.0" x2="478.7" y2="463.0" stroke="#444" stroke-width="0.8" />
<line x1="469.9" y1="480.0" x2="478.7" y2="480.0" stroke="#444" stroke-width="0.8" />
<line x1="478.7" y1="436.7" x2="485.1" y2="436.7" stroke="#444" stroke-width="0.8" />
<line x1="478.7" y1="454.2" x2="485.1" y2="454.2" stroke="#444" stroke-width="0.8" />
<line x1="478.7" y1="471.2" x2="485.1" y2="471.2" stroke="#444" stroke-width="0.8" />
<line x1="478.7" y1="488.2" x2="485.1" y2="488.2" stroke="#444" stroke-width="0.8" />
<line x1="432.0" y1="474.1" x2="485.0" y2="474.1" stroke="#444" stroke-width="0.9" />
<rect x="484.5" y="459.8" width="8.7" height="14.8" fill="#111" stroke="none" stroke-width="0.8" />
<path d="M492.7,462.6 h-2.2 v2 q-3.6,0.6 -3.6,2.6 q0,2 3.6,2.6 v2 h2.2 z" fill="#fff"/>
<rect x="493.2" y="460.0" width="6.8" height="14.4" fill="#777" stroke="none" stroke-width="0.8" />
<rect x="494.2" y="461.5" width="1.5" height="1.5" fill="#fff" stroke="none" stroke-width="0.8" />
<rect x="497.2" y="461.5" width="1.5" height="1.5" fill="#fff" stroke="none" stroke-width="0.8" />
<rect x="494.2" y="464.5" width="1.5" height="1.5" fill="#fff" stroke="none" stroke-width="0.8" />
<rect x="497.2" y="464.5" width="1.5" height="1.5" fill="#fff" stroke="none" stroke-width="0.8" />
<rect x="494.2" y="467.5" width="1.5" height="1.5" fill="#fff" stroke="none" stroke-width="0.8" />
<rect x="497.2" y="467.5" width="1.5" height="1.5" fill="#fff" stroke="none" stroke-width="0.8" />
<rect x="494.2" y="470.5" width="1.5" height="1.5" fill="#fff" stroke="none" stroke-width="0.8" />
<rect x="497.2" y="470.5" width="1.5" height="1.5" fill="#fff" stroke="none" stroke-width="0.8" />
<circle cx="497.3" cy="466.4" r="17.3" fill="none" stroke="#555" stroke-width="0.8" stroke-dasharray="6,1.5,1.2,1.5"/>
<circle cx="562.8" cy="401.0" r="36.3" fill="none" stroke="#555" stroke-width="0.8" stroke-dasharray="6,1.5,1.2,1.5"/>
<line x1="510.2" y1="455.9" x2="537.1" y2="426.7" stroke="#333" stroke-width="0.8" />
<rect x="539.5" y="389.4" width="14.8" height="26.6" fill="#fff" stroke="#000" stroke-width="2.8" />
<path d="M540.8,390.8 v6 q5,-1 5.5,-4 q0,-2 -2,-2 z" fill="#111"/><path d="M540.8,414.6 v-6 q5,1 5.5,4 q0,2 -2,2 z" fill="#111"/>
<path d="M554.3,398 h-5 v9.6 h5" fill="#fff" stroke="#000" stroke-width="1.6"/>
<rect x="550.6" y="399.5" width="2.2" height="6.5" fill="#fff" stroke="#333" stroke-width="0.6" />
<rect x="555.6" y="388.6" width="12.5" height="28.7" fill="#e4e4e4" stroke="#444" stroke-width="0.8" />
<line x1="561.8" y1="388.6" x2="561.8" y2="417.3" stroke="#333" stroke-width="0.6" stroke-dasharray="1.5,1.5"/>
<circle cx="563.7" cy="393.6" r="1.8" fill="#222"/>
<line x1="558.0" y1="393.6" x2="560.5" y2="393.6" stroke="#444" stroke-width="0.7" />
<circle cx="563.7" cy="411.7" r="1.8" fill="#222"/>
<line x1="558.0" y1="411.7" x2="560.5" y2="411.7" stroke="#444" stroke-width="0.7" />
<line x1="568.0" y1="389.8" x2="597.0" y2="389.8" stroke="#444" stroke-width="0.8" />
<line x1="568.0" y1="399.8" x2="597.0" y2="399.8" stroke="#444" stroke-width="0.8" />
<line x1="568.0" y1="406.1" x2="597.0" y2="406.1" stroke="#444" stroke-width="0.8" />
<line x1="568.0" y1="414.8" x2="597.0" y2="414.8" stroke="#444" stroke-width="0.8" />
<rect x="556.2" y="399.8" width="27.5" height="6.3" fill="#f4f4f4" stroke="#333" stroke-width="0.8" />
<rect x="558" y="401.2" width="3.6" height="3.6" fill="none" stroke="#444" stroke-width="0.6"/>
<line x1="558.0" y1="401.2" x2="561.6" y2="404.8" stroke="#444" stroke-width="0.5" />
<rect x="563.5" y="401.2" width="3.6" height="3.6" fill="none" stroke="#444" stroke-width="0.6"/>
<line x1="563.5" y1="401.2" x2="567.1" y2="404.8" stroke="#444" stroke-width="0.5" />
<rect x="569" y="401.2" width="3.6" height="3.6" fill="none" stroke="#444" stroke-width="0.6"/>
<line x1="569.0" y1="401.2" x2="572.6" y2="404.8" stroke="#444" stroke-width="0.5" />
<rect x="574.5" y="401.2" width="3.6" height="3.6" fill="none" stroke="#444" stroke-width="0.6"/>
<line x1="574.5" y1="401.2" x2="578.1" y2="404.8" stroke="#444" stroke-width="0.5" />
<rect x="580" y="401.2" width="3.6" height="3.6" fill="none" stroke="#444" stroke-width="0.6"/>
<line x1="580.0" y1="401.2" x2="583.6" y2="404.8" stroke="#444" stroke-width="0.5" />
<line x1="569.3" y1="397.3" x2="577.4" y2="391.1" stroke="#444" stroke-width="0.7" />
<line x1="530.0" y1="387.3" x2="538.0" y2="387.3" stroke="#444" stroke-width="0.7" />
<line x1="538.1" y1="417.0" x2="538.1" y2="430.0" stroke="#444" stroke-width="0.7" />
<text transform="translate(497.3,375.9) rotate(0) scale(0.835,1)" font-family="Liberation Serif" font-size="11.5" fill="#111" text-anchor="start" >0-10mm</text>
<line x1="497.0" y1="377.4" x2="567.5" y2="377.4" stroke="#333" stroke-width="0.8" />
<line x1="538.1" y1="374.0" x2="538.1" y2="388.0" stroke="#444" stroke-width="0.7" />
<line x1="544.4" y1="374.0" x2="544.4" y2="388.0" stroke="#444" stroke-width="0.7" />
<line x1="553.1" y1="374.0" x2="553.1" y2="388.0" stroke="#444" stroke-width="0.7" />
<polygon points="538.1,377.4 533.6,378.7 533.6,376.1" fill="#111" stroke="none" stroke-width="0.8" />
<polygon points="560.0,377.4 564.5,376.1 564.5,378.7" fill="#111" stroke="none" stroke-width="0.8" />
<g transform="translate(579.6,460.1) scale(1.03)"><path d="M1.4,0 h2.5 v2.5 h4.7 v-2.5 h3.1 v4.7 h-10.3 z M1.4,4.7 h5.3 l3,3.9 h-5.5 z M9.4,4.7 h2.3 v3.9 h-2.3 z M0,8.6 h12.1 v4.7 h-12.1 z" fill="#111"/><rect x="1" y="9.4" width="2.2" height="2" fill="#fff"/><rect x="8.7" y="9.2" width="1.5" height="2.2" fill="#fff"/></g>
<line x1="490.3" y1="476.0" x2="490.3" y2="501.0" stroke="#333" stroke-width="0.8" />
<line x1="631.2" y1="439.3" x2="631.2" y2="501.0" stroke="#333" stroke-width="0.8" />
<line x1="633.3" y1="439.3" x2="633.3" y2="470.0" stroke="#555" stroke-width="0.7" />
<line x1="490.3" y1="498.5" x2="631.2" y2="498.5" stroke="#333" stroke-width="0.8" />
<polygon points="490.3,498.5 494.8,497.2 494.8,499.8" fill="#111" stroke="none" stroke-width="0.8" />
<polygon points="631.2,498.5 626.7,499.8 626.7,497.2" fill="#111" stroke="none" stroke-width="0.8" />
<text transform="translate(548.8,496.8) rotate(0) scale(0.87,1)" font-family="Liberation Serif" font-size="11.5" fill="#111" text-anchor="start" >C=343</text>
<text transform="translate(599.7,443.6) rotate(0) scale(0.87,1)" font-family="Liberation Serif" font-size="11.5" fill="#111" text-anchor="start" >5. 5</text>
<line x1="598.5" y1="445.8" x2="648.0" y2="445.8" stroke="#333" stroke-width="0.8" />
<polygon points="631.2,445.8 626.7,447.1 626.7,444.5" fill="#111" stroke="none" stroke-width="0.8" />
<polygon points="633.3,445.8 637.8,444.5 637.8,447.1" fill="#111" stroke="none" stroke-width="0.8" />
<line x1="633.3" y1="442.4" x2="797.5" y2="442.4" stroke="#333" stroke-width="0.8" />
<polygon points="633.3,442.4 637.8,441.1 637.8,443.7" fill="#111" stroke="none" stroke-width="0.8" />
<polygon points="797.5,442.4 793.0,443.7 793.0,441.1" fill="#111" stroke="none" stroke-width="0.8" />
<text transform="translate(701.2,441.4) rotate(0) scale(0.87,1)" font-family="Liberation Serif" font-size="11.5" fill="#111" text-anchor="start" >D=402</text>
<rect x="634.3" y="451.0" width="9.9" height="9.0" fill="#fff" stroke="#333" stroke-width="0.9" rx="2"/>
<rect x="636.5" y="453.5" width="5.0" height="2.5" fill="#333" stroke="none" stroke-width="0.8" />
<rect x="633.5" y="460.0" width="10.7" height="10.2" fill="#fff" stroke="#333" stroke-width="0.9" />
<rect x="653.3" y="452.3" width="19.0" height="1.8" fill="#fff" stroke="#333" stroke-width="0.8" />
<rect x="659.8" y="454.1" width="6.0" height="3.5" fill="#fff" stroke="#333" stroke-width="0.8" />
<path d="M651.8,461.3 l2,-2.5 h18 l2,2.5 l-2,2.5 h-18 z" fill="#fff" stroke="#333" stroke-width="0.8"/>
<rect x="661.3" y="463.8" width="3.0" height="4.0" fill="#fff" stroke="#333" stroke-width="0.7" />
<rect x="764.0" y="454.0" width="19.0" height="1.8" fill="#fff" stroke="#333" stroke-width="0.8" />
<rect x="770.5" y="455.8" width="6.0" height="3.5" fill="#fff" stroke="#333" stroke-width="0.8" />
<path d="M762.5,463 l2,-2.5 h18 l2,2.5 l-2,2.5 h-18 z" fill="#fff" stroke="#333" stroke-width="0.8"/>
<rect x="772.0" y="465.5" width="3.0" height="4.0" fill="#fff" stroke="#333" stroke-width="0.7" />
<rect x="779.1" y="448.2" width="5.5" height="23.5" fill="#fff" stroke="#333" stroke-width="0.9" />
<rect x="764.9" y="451.5" width="18.6" height="1.8" fill="#222" stroke="none" stroke-width="0.8" />
<rect x="779.8" y="452.0" width="4.0" height="6.0" fill="#ccc" stroke="#444" stroke-width="0.6" />
<line x1="695.0" y1="70.0" x2="695.0" y2="143.7" stroke="#333" stroke-width="0.8" />
<line x1="690.0" y1="84.3" x2="727.0" y2="84.3" stroke="#333" stroke-width="0.8" />
<line x1="690.0" y1="91.5" x2="727.0" y2="91.5" stroke="#333" stroke-width="0.8" />
<polygon points="695.0,84.3 693.7,79.8 696.3,79.8" fill="#111" stroke="none" stroke-width="0.8" />
<polygon points="695.0,91.5 696.3,96.0 693.7,96.0" fill="#111" stroke="none" stroke-width="0.8" />
<text transform="translate(694.0,142.5) rotate(-90) scale(0.87,1)" font-family="Liberation Serif" font-size="11.5" fill="#111" text-anchor="start" >0-10mm</text>
<circle cx="813.7" cy="67.2" r="18.0" fill="none" stroke="#555" stroke-width="0.8" stroke-dasharray="6,1.5,1.2,1.5"/>
<circle cx="739.8" cy="102.2" r="36.0" fill="none" stroke="#555" stroke-width="0.8" stroke-dasharray="6,1.5,1.2,1.5"/>
<line x1="776.2" y1="92.5" x2="798.7" y2="77.5" stroke="#333" stroke-width="0.8" />
<rect x="727.6" y="79.6" width="26.8" height="14.8" fill="#fff" stroke="#000" stroke-width="2.8" />
<path d="M729,81 h6 q-1,5 -4,5.5 q-2,0 -2,-2 z" fill="#111"/><path d="M753,81 h-6 q1,5 4,5.5 q2,0 2,-2 z" fill="#111"/>
<path d="M735.6,94 v-5 h11.2 v5" fill="#fff" stroke="#000" stroke-width="1.6"/>
<rect x="738.0" y="90.5" width="6.5" height="2.2" fill="#fff" stroke="#333" stroke-width="0.6" />
<rect x="727.8" y="95.7" width="27.0" height="11.3" fill="#e4e4e4" stroke="#444" stroke-width="0.8" />
<line x1="727.8" y1="102.8" x2="755.0" y2="102.8" stroke="#333" stroke-width="0.6" stroke-dasharray="1.5,1.5"/>
<circle cx="731.8" cy="103.2" r="1.8" fill="#222"/>
<line x1="731.8" y1="98.0" x2="731.8" y2="100.5" stroke="#444" stroke-width="0.7" />
<circle cx="750.0" cy="103.2" r="1.8" fill="#222"/>
<line x1="750.0" y1="98.0" x2="750.0" y2="100.5" stroke="#444" stroke-width="0.7" />
<line x1="728.1" y1="107.0" x2="728.1" y2="137.5" stroke="#444" stroke-width="0.8" />
<line x1="737.5" y1="107.0" x2="737.5" y2="137.5" stroke="#444" stroke-width="0.8" />
<line x1="744.3" y1="107.0" x2="744.3" y2="137.5" stroke="#444" stroke-width="0.8" />
<line x1="747.4" y1="107.0" x2="747.4" y2="137.5" stroke="#444" stroke-width="0.8" />
<line x1="754.3" y1="107.0" x2="754.3" y2="137.5" stroke="#444" stroke-width="0.8" />
<rect x="738.0" y="97.0" width="6.3" height="26.0" fill="#f4f4f4" stroke="#333" stroke-width="0.8" />
<rect x="739.2" y="99.5" width="3.9" height="3.6" fill="none" stroke="#444" stroke-width="0.6"/>
<line x1="739.2" y1="99.5" x2="743.1" y2="103.1" stroke="#444" stroke-width="0.5" />
<rect x="739.2" y="105" width="3.9" height="3.6" fill="none" stroke="#444" stroke-width="0.6"/>
<line x1="739.2" y1="105.0" x2="743.1" y2="108.6" stroke="#444" stroke-width="0.5" />
<rect x="739.2" y="110.5" width="3.9" height="3.6" fill="none" stroke="#444" stroke-width="0.6"/>
<line x1="739.2" y1="110.5" x2="743.1" y2="114.1" stroke="#444" stroke-width="0.5" />
<rect x="739.2" y="116" width="3.9" height="3.6" fill="none" stroke="#444" stroke-width="0.6"/>
<line x1="739.2" y1="116.0" x2="743.1" y2="119.6" stroke="#444" stroke-width="0.5" />
<rect x="744.3" y="107.0" width="3.1" height="16.0" fill="#fff" stroke="#444" stroke-width="0.6" />
<line x1="728.5" y1="116.0" x2="736.0" y2="108.0" stroke="#444" stroke-width="0.7" />
<line x1="716.2" y1="78.2" x2="765.0" y2="78.2" stroke="#444" stroke-width="0.7" />
<line x1="720.6" y1="72.0" x2="720.6" y2="78.2" stroke="#444" stroke-width="0.7" />
<line x1="755.0" y1="70.0" x2="755.0" y2="78.2" stroke="#444" stroke-width="0.7" />
<rect x="901.4" y="158.3" width="60.6" height="29.5" fill="#fff" stroke="#333" stroke-width="0.9" />
<line x1="901.4" y1="163.3" x2="962.0" y2="163.3" stroke="#444" stroke-width="0.8" />
<line x1="901.4" y1="172.5" x2="962.0" y2="172.5" stroke="#444" stroke-width="0.8" />
<line x1="901.4" y1="180.5" x2="962.0" y2="180.5" stroke="#444" stroke-width="0.8" />
<line x1="914.3" y1="158.3" x2="914.3" y2="163.3" stroke="#444" stroke-width="0.8" />
<line x1="931.0" y1="158.3" x2="931.0" y2="163.3" stroke="#444" stroke-width="0.8" />
<line x1="948.2" y1="158.3" x2="948.2" y2="163.3" stroke="#444" stroke-width="0.8" />
<line x1="905.5" y1="163.3" x2="905.5" y2="172.5" stroke="#444" stroke-width="0.8" />
<line x1="922.5" y1="163.3" x2="922.5" y2="172.5" stroke="#444" stroke-width="0.8" />
<line x1="939.5" y1="163.3" x2="939.5" y2="172.5" stroke="#444" stroke-width="0.8" />
<line x1="956.4" y1="163.3" x2="956.4" y2="172.5" stroke="#444" stroke-width="0.8" />
<line x1="914.3" y1="172.5" x2="914.3" y2="180.5" stroke="#444" stroke-width="0.8" />
<line x1="931.0" y1="172.5" x2="931.0" y2="180.5" stroke="#444" stroke-width="0.8" />
<line x1="948.2" y1="172.5" x2="948.2" y2="180.5" stroke="#444" stroke-width="0.8" />
<line x1="905.5" y1="180.5" x2="905.5" y2="187.8" stroke="#444" stroke-width="0.8" />
<line x1="922.5" y1="180.5" x2="922.5" y2="187.8" stroke="#444" stroke-width="0.8" />
<line x1="939.5" y1="180.5" x2="939.5" y2="187.8" stroke="#444" stroke-width="0.8" />
<line x1="956.4" y1="180.5" x2="956.4" y2="187.8" stroke="#444" stroke-width="0.8" />
<rect x="929.5" y="188.3" width="12.8" height="6.7" fill="#fff" stroke="#000" stroke-width="2.4"/>
<path d="M931.7,194.5 q0,-3.6 4.2,-3.6 q4.2,0 4.2,3.6 z" fill="#111"/>
<rect x="934.3" y="192.9" width="3.2" height="1.6" fill="#fff"/>
<path d="M930.6,189.4 h2.2 v2.4 h-2.2 z M939.0,189.4 h2.2 v2.4 h-2.2 z" fill="#111"/>
<rect x="928.9" y="196.1" width="14.0" height="6.8" fill="#444" stroke="none" stroke-width="0.8" />
<rect x="930.2" y="197.3" width="1.6" height="1.2" fill="#eee" stroke="none" stroke-width="0.8" />
<rect x="930.2" y="200.5" width="1.6" height="1.2" fill="#eee" stroke="none" stroke-width="0.8" />
<rect x="933.0" y="197.3" width="1.6" height="1.2" fill="#eee" stroke="none" stroke-width="0.8" />
<rect x="933.0" y="200.5" width="1.6" height="1.2" fill="#eee" stroke="none" stroke-width="0.8" />
<rect x="935.9" y="197.3" width="1.6" height="1.2" fill="#eee" stroke="none" stroke-width="0.8" />
<rect x="935.9" y="200.5" width="1.6" height="1.2" fill="#eee" stroke="none" stroke-width="0.8" />
<rect x="938.7" y="197.3" width="1.6" height="1.2" fill="#eee" stroke="none" stroke-width="0.8" />
<rect x="938.7" y="200.5" width="1.6" height="1.2" fill="#eee" stroke="none" stroke-width="0.8" />
<line x1="929.4" y1="201.0" x2="929.4" y2="592.7" stroke="#666" stroke-width="1.0" />
<line x1="934.5" y1="201.0" x2="934.5" y2="596.0" stroke="#555" stroke-width="1.0" />
<line x1="938.4" y1="201.0" x2="938.4" y2="600.1" stroke="#999" stroke-width="1.0" />
<line x1="942.3" y1="201.0" x2="942.3" y2="604.8" stroke="#444" stroke-width="1.1" />
<rect x="935.0" y="203.0" width="3.0" height="10.0" fill="#eee" stroke="#555" stroke-width="0.6" />
<line x1="935.0" y1="204.5" x2="938.0" y2="204.5" stroke="#444" stroke-width="0.6" />
<line x1="935.0" y1="207.0" x2="938.0" y2="207.0" stroke="#444" stroke-width="0.6" />
<line x1="935.0" y1="209.5" x2="938.0" y2="209.5" stroke="#444" stroke-width="0.6" />
<line x1="929.5" y1="210.0" x2="935.0" y2="205.0" stroke="#555" stroke-width="0.7" />
<line x1="923.6" y1="244.7" x2="923.6" y2="436.0" stroke="#888" stroke-width="1.0" />
<line x1="926.7" y1="244.7" x2="926.7" y2="436.0" stroke="#888" stroke-width="1.0" />
<line x1="923.6" y1="243.8" x2="929.4" y2="243.8" stroke="#777" stroke-width="0.9" />
<path d="M923.6,436 q1.5,2.5 3.1,0" stroke="#666" stroke-width="0.9" fill="none"/>
<rect x="919.5" y="266.2" width="3.5" height="17.5" fill="#fff" stroke="#333" stroke-width="0.9" rx="1.2"/>
<rect x="923.0" y="270.5" width="4.0" height="9.0" fill="#fff" stroke="#333" stroke-width="0.8" />
<rect x="934.3" y="258.2" width="4.7" height="101.3" fill="#d8d8d8" stroke="#333" stroke-width="0.9" />
<line x1="936.2" y1="260.0" x2="936.2" y2="358.0" stroke="#333" stroke-width="0.9" />
<rect x="927.0" y="268.0" width="7.5" height="4.0" fill="#fff" stroke="#444" stroke-width="0.7" />
<path d="M929.4,304 h5 v3 h-2 v5 h2 v3 h-5 z" fill="#111"/>
<path d="M943.4,304 h-5 v3 h2 v5 h-2 v3 h5 z" fill="#111"/>
<rect x="934.4" y="308.0" width="4.0" height="3.0" fill="#333" stroke="none" stroke-width="0.8" />
<rect x="934.2" y="473.5" width="5.0" height="100.9" fill="#d8d8d8" stroke="#333" stroke-width="0.9" />
<line x1="936.2" y1="475.0" x2="936.2" y2="573.0" stroke="#444" stroke-width="0.9" />
<rect x="919.7" y="396.0" width="5.9" height="17.3" fill="#fff" stroke="#222" stroke-width="0.9" />
<rect x="921.0" y="398.0" width="3.0" height="7.0" fill="#222" stroke="none" stroke-width="0.8" />
<rect x="927.5" y="395.0" width="12.1" height="18.3" fill="#fff" stroke="#222" stroke-width="0.9" />
<rect x="929.0" y="397.0" width="3.5" height="8.0" fill="#444" stroke="none" stroke-width="0.8" />
<rect x="935.5" y="397.0" width="3.0" height="8.0" fill="#999" stroke="none" stroke-width="0.8" />
<rect x="917.4" y="413.3" width="23.4" height="5.4" fill="#fff" stroke="#333" stroke-width="0.9" />
<rect x="919.0" y="414.3" width="4.0" height="3.4" fill="#777" stroke="none" stroke-width="0.8" />
<rect x="927.5" y="414.3" width="12.0" height="3.4" fill="#999" stroke="none" stroke-width="0.8" />
<line x1="774.2" y1="570.4" x2="904.5" y2="418.7" stroke="#333" stroke-width="0.8" />
<polygon points="904.5,418.7 902.1,423.9 899.8,421.9" fill="#111" stroke="none" stroke-width="0.8" />
<polygon points="774.2,570.4 776.6,565.2 778.9,567.2" fill="#111" stroke="none" stroke-width="0.8" />
<line x1="902.6" y1="416.4" x2="927.1" y2="435.9" stroke="#333" stroke-width="0.8" />
<line x1="771.1" y1="567.9" x2="793.0" y2="586.7" stroke="#333" stroke-width="0.8" />
<text transform="translate(839.1,493.5) rotate(-49.3)" font-family="Liberation Serif" font-size="11.2" fill="#111" text-anchor="middle" >G=481±10</text>
<rect x="579.6" y="563.2" width="29.2" height="61.1" fill="#fff" stroke="#333" stroke-width="0.9" />
<line x1="584.6" y1="563.2" x2="584.6" y2="624.3" stroke="#444" stroke-width="0.8" />
<line x1="593.1" y1="563.2" x2="593.1" y2="624.3" stroke="#444" stroke-width="0.8" />
<line x1="601.4" y1="563.2" x2="601.4" y2="624.3" stroke="#444" stroke-width="0.8" />
<line x1="579.6" y1="577.7" x2="584.6" y2="577.7" stroke="#444" stroke-width="0.8" />
<line x1="579.6" y1="594.5" x2="584.6" y2="594.5" stroke="#444" stroke-width="0.8" />
<line x1="579.6" y1="611.4" x2="584.6" y2="611.4" stroke="#444" stroke-width="0.8" />
<line x1="584.6" y1="569.2" x2="593.1" y2="569.2" stroke="#444" stroke-width="0.8" />
<line x1="584.6" y1="586.7" x2="593.1" y2="586.7" stroke="#444" stroke-width="0.8" />
<line x1="584.6" y1="603.5" x2="593.1" y2="603.5" stroke="#444" stroke-width="0.8" />
<line x1="584.6" y1="620.4" x2="593.1" y2="620.4" stroke="#444" stroke-width="0.8" />
<line x1="593.1" y1="577.7" x2="601.4" y2="577.7" stroke="#444" stroke-width="0.8" />
<line x1="593.1" y1="594.5" x2="601.4" y2="594.5" stroke="#444" stroke-width="0.8" />
<line x1="593.1" y1="611.4" x2="601.4" y2="611.4" stroke="#444" stroke-width="0.8" />
<line x1="601.4" y1="569.2" x2="608.8" y2="569.2" stroke="#444" stroke-width="0.8" />
<line x1="601.4" y1="586.7" x2="608.8" y2="586.7" stroke="#444" stroke-width="0.8" />
<line x1="601.4" y1="603.5" x2="608.8" y2="603.5" stroke="#444" stroke-width="0.8" />
<line x1="601.4" y1="620.4" x2="608.8" y2="620.4" stroke="#444" stroke-width="0.8" />
<rect x="608.0" y="591.3" width="7.4" height="14.0" fill="#111" stroke="none" stroke-width="0.8" />
<path d="M615.4,593.6 h-2.2 v2 q-3.4,0.6 -3.4,2.6 q0,2 3.4,2.6 v2 h2.2 z" fill="#fff"/>
<rect x="615.4" y="591.5" width="6.6" height="13.6" fill="#777" stroke="none" stroke-width="0.8" />
<rect x="616.2" y="592.8" width="1.4" height="1.4" fill="#fff" stroke="none" stroke-width="0.8" />
<rect x="619.2" y="592.8" width="1.4" height="1.4" fill="#fff" stroke="none" stroke-width="0.8" />
<rect x="616.2" y="595.8" width="1.4" height="1.4" fill="#fff" stroke="none" stroke-width="0.8" />
<rect x="619.2" y="595.8" width="1.4" height="1.4" fill="#fff" stroke="none" stroke-width="0.8" />
<rect x="616.2" y="598.8" width="1.4" height="1.4" fill="#fff" stroke="none" stroke-width="0.8" />
<rect x="619.2" y="598.8" width="1.4" height="1.4" fill="#fff" stroke="none" stroke-width="0.8" />
<rect x="616.2" y="601.8" width="1.4" height="1.4" fill="#fff" stroke="none" stroke-width="0.8" />
<rect x="619.2" y="601.8" width="1.4" height="1.4" fill="#fff" stroke="none" stroke-width="0.8" />
<line x1="622.8" y1="585.8" x2="622.8" y2="605.3" stroke="#555" stroke-width="0.9" />
<line x1="622.8" y1="585.8" x2="795.0" y2="585.8" stroke="#666" stroke-width="1.0" />
<line x1="622.8" y1="588.2" x2="795.0" y2="588.2" stroke="#999" stroke-width="0.8" />
<line x1="622.8" y1="590.6" x2="795.0" y2="590.6" stroke="#999" stroke-width="0.9" />
<line x1="622.8" y1="592.7" x2="929.4" y2="592.7" stroke="#666" stroke-width="1.0" />
<line x1="622.8" y1="596.0" x2="934.5" y2="596.0" stroke="#555" stroke-width="1.0" />
<line x1="622.8" y1="600.1" x2="938.4" y2="600.1" stroke="#999" stroke-width="0.9" />
<line x1="622.8" y1="602.4" x2="810.0" y2="602.4" stroke="#aaa" stroke-width="0.8" />
<line x1="622.8" y1="604.8" x2="942.3" y2="604.8" stroke="#333" stroke-width="1.1" />
<path d="M795,585.8 q3,2.5 0,4.8" stroke="#555" stroke-width="0.9" fill="none"/>
<rect x="810.6" y="597.2" width="104.4" height="4.8" fill="#ccc" stroke="#222" stroke-width="0.8" />
<rect x="630.0" y="597.5" width="80.0" height="2.3" fill="#ddd" stroke="#777" stroke-width="0.5" />
<g transform="translate(702.8,592) scale(1.0)"><path d="M1.4,0 h2.5 v2.5 h4.7 v-2.5 h3.1 v4.7 h-10.3 z M1.4,4.7 h5.3 l3,3.9 h-5.5 z M9.4,4.7 h2.3 v3.9 h-2.3 z M0,8.6 h12.1 v4.7 h-12.1 z" fill="#111"/><rect x="1" y="9.4" width="2.2" height="2" fill="#fff"/><rect x="8.7" y="9.2" width="1.5" height="2.2" fill="#fff"/></g>
<rect x="646.8" y="583.4" width="16.4" height="2.1" fill="#fff" stroke="#333" stroke-width="0.8" />
<rect x="652.0" y="585.5" width="6.0" height="4.5" fill="#fff" stroke="#333" stroke-width="0.8" />
<path d="M644.3,594.4 l2.4,-2.4 h16.6 l2.4,2.4 l-2.4,2.4 h-16.6 z" fill="#fff" stroke="#333" stroke-width="0.8"/>
<rect x="653.5" y="596.8" width="3.0" height="4.0" fill="#fff" stroke="#333" stroke-width="0.7" />
<rect x="755.0" y="582.0" width="7.0" height="5.0" fill="#fff" stroke="#222" stroke-width="0.9" />
<rect x="756.5" y="583.2" width="4.0" height="2.5" fill="#333" stroke="none" stroke-width="0.8" />
<rect x="753.7" y="590.0" width="10.0" height="12.4" fill="#fff" stroke="#333" stroke-width="0.8" />
<rect x="770.0" y="580.0" width="5.0" height="22.4" fill="#fff" stroke="#333" stroke-width="0.8" />
<rect x="762.0" y="587.5" width="12.0" height="2.0" fill="#333" stroke="none" stroke-width="0.8" />
<circle cx="936" cy="592" r="2.6" fill="#222"/><circle cx="929.7" cy="598" r="2.4" fill="#222"/><circle cx="933" cy="598" r="2" fill="#333"/>
<rect x="926.0" y="598.5" width="12.0" height="3.5" fill="#aaa" stroke="none" stroke-width="0.8" />
<line x1="934.0" y1="596.0" x2="942.3" y2="604.8" stroke="#222" stroke-width="1.0" />
<text transform="translate(864.6,635.1) rotate(0)" font-family="Liberation Sans" font-size="15.7" fill="#a0a0a0" text-anchor="start" >suntechnica.ru</text>
</svg></body></html>
